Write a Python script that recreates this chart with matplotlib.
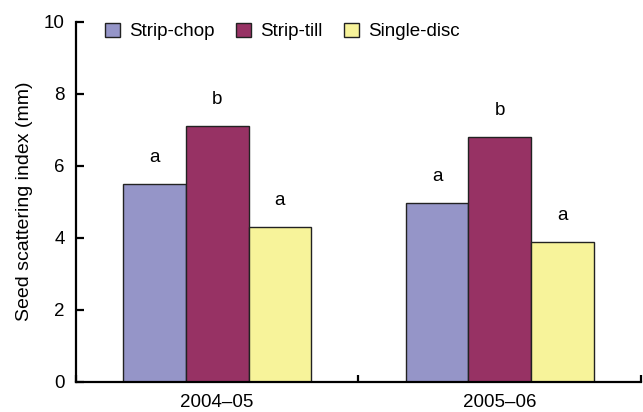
import matplotlib.pyplot as plt
import numpy as np

plt.rcParams['font.family'] = ['Liberation Sans', 'DejaVu Sans']

seasons = ['2004–05', '2005–06']
treatments = ['Strip-chop', 'Strip-till', 'Single-disc']
values = {
    'Strip-chop': [5.5, 4.97],
    'Strip-till': [7.1, 6.8],
    'Single-disc': [4.3, 3.87],
}
letters = {
    'Strip-chop': ['a', 'a'],
    'Strip-till': ['b', 'b'],
    'Single-disc': ['a', 'a'],
}
colors = ['#9595c8', '#973264', '#f7f39a']

fig = plt.figure(figsize=(6.43, 4.12), dpi=100)
ax = fig.add_axes([0.118, 0.074, 0.879, 0.873])

x = np.arange(len(seasons))
w = 0.222
for i, (name, col) in enumerate(zip(treatments, colors)):
    pos = x + (i - 1) * w
    ax.bar(pos, values[name], width=w, color=col, edgecolor='#222222',
           linewidth=1.0, label=name)
    for px, v, lab in zip(pos, values[name], letters[name]):
        ax.text(px, v + 0.5, lab, ha='center', va='bottom', fontsize=13.5)

ax.set_xlim(-0.5, 1.5)
ax.set_ylim(0, 10)
ax.set_yticks([0, 2, 4, 6, 8, 10])
ax.set_xticks([-0.5, 0.5, 1.5])
ax.set_xticklabels([])
ax.set_xticks(x, minor=True)
ax.set_xticklabels(seasons, minor=True)
ax.tick_params(axis='x', which='minor', length=0, pad=9, labelsize=13.5)
ax.tick_params(axis='x', which='major', direction='in', length=5, width=1.6)
ax.tick_params(axis='y', direction='in', length=6, width=1.6, labelsize=13.5, pad=8)

for s in ['top', 'right']:
    ax.spines[s].set_visible(False)
for s in ['left', 'bottom']:
    ax.spines[s].set_linewidth(1.6)

ax.set_ylabel('Seed scattering index (mm)', fontsize=14, labelpad=8)

ax.legend(loc='upper left', bbox_to_anchor=(0.022, 1.045), ncol=3, frameon=False,
          handlelength=0.8, handleheight=0.8, handletextpad=0.5,
          columnspacing=1.12, fontsize=13.5)

fig.savefig('out.png', dpi=100)
